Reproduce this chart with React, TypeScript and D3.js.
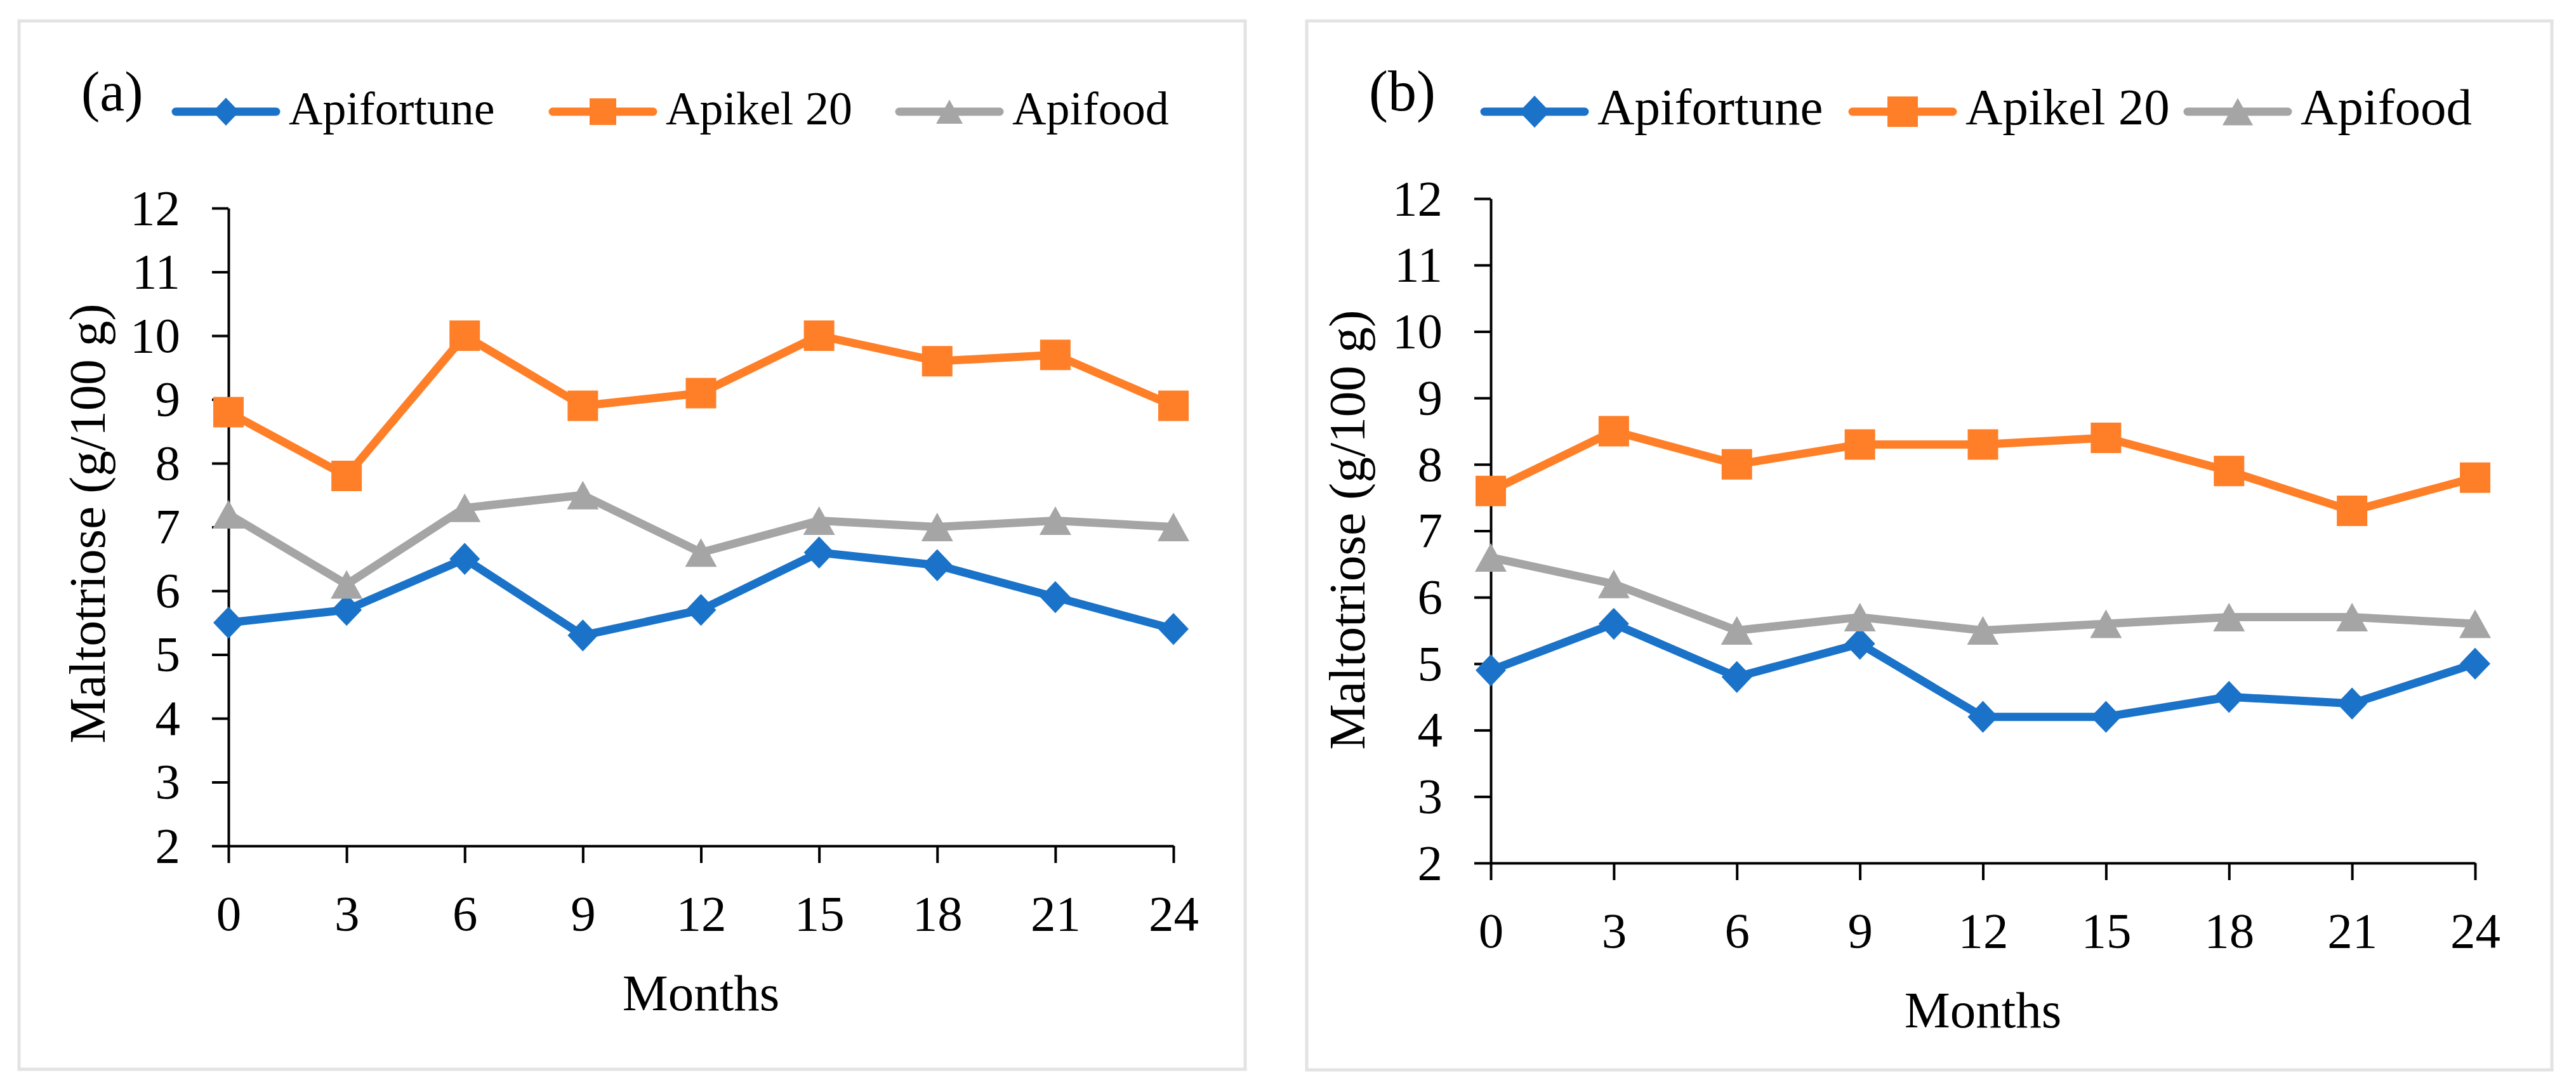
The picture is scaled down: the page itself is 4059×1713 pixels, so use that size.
import { useEffect, useRef } from "react";
import * as d3 from "d3";

// Storage months and maltotriose content (g/100 g)
const MONTHS = [0, 3, 6, 9, 12, 15, 18, 21, 24];
const Y_TICKS = [2, 3, 4, 5, 6, 7, 8, 9, 10, 11, 12];
const SERIES_NAMES = ["Apifortune", "Apikel 20", "Apifood"];

const A_APIFORTUNE = [5.5, 5.7, 6.5, 5.3, 5.7, 6.6, 6.4, 5.9, 5.4];
const A_APIKEL = [8.8, 7.8, 10.0, 8.9, 9.1, 10.0, 9.6, 9.7, 8.9];
const A_APIFOOD = [7.2, 6.1, 7.3, 7.5, 6.6, 7.1, 7.0, 7.1, 7.0];

const B_APIFORTUNE = [4.9, 5.6, 4.8, 5.3, 4.2, 4.2, 4.5, 4.4, 5.0];
const B_APIKEL = [7.6, 8.5, 8.0, 8.3, 8.3, 8.4, 7.9, 7.3, 7.8];
const B_APIFOOD = [6.6, 6.2, 5.5, 5.7, 5.5, 5.6, 5.7, 5.7, 5.6];

const COLORS = ["#1a73c8", "#fe7f28", "#a5a5a5"];
const FONT = "'Liberation Serif', 'Times New Roman', serif";

// custom marker shapes; "size" is used as half the marker width
const diamond = {
  draw(ctx: d3.Path, r: number) {
    ctx.moveTo(0, -r * 1.05);
    ctx.lineTo(r, 0);
    ctx.lineTo(0, r * 1.05);
    ctx.lineTo(-r, 0);
    ctx.closePath();
  },
};
const square = {
  draw(ctx: d3.Path, r: number) {
    ctx.rect(-r, -r, 2 * r, 2 * r);
  },
};
const triangle = {
  draw(ctx: d3.Path, r: number) {
    const h = r * 0.9;
    ctx.moveTo(0, -h);
    ctx.lineTo(r, h);
    ctx.lineTo(-r, h);
    ctx.closePath();
  },
};
const SHAPES = [diamond, square, triangle];
const MARKER_R = [24, 24, 25];

const PANELS = [
  {
    tag: "(a)",
    series: [A_APIFORTUNE, A_APIKEL, A_APIFOOD],
    frame: { x: 30, y: 33, w: 1932, h: 1652 },
    plot: { left: 360, right: 1849, top: 328, bottom: 1333 },
    tagX: 128,
    tagFont: 88,
    legendY: 176,
    legendFont: 74,
    legendMarker: 21,
    legendLines: [271, 865, 1411],
    yTitle: { x: 165, y: 825 },
  },
  {
    tag: "(b)",
    series: [B_APIFORTUNE, B_APIKEL, B_APIFOOD],
    frame: { x: 2059, y: 33, w: 1962, h: 1653 },
    plot: { left: 2349, right: 3900, top: 313, bottom: 1360 },
    tagX: 2157,
    tagFont: 90,
    legendY: 176,
    legendFont: 81,
    legendMarker: 24,
    legendLines: [2333, 2913, 3441],
    yTitle: { x: 2150, y: 835 },
  },
];

export default function App() {
  const svgRef = useRef<SVGSVGElement>(null);

  useEffect(() => {
    if (!svgRef.current) return;
    const svg = d3.select(svgRef.current);
    svg.selectAll("*").remove();

    svg.append("rect").attr("width", 4059).attr("height", 1713).attr("fill", "#fff");

    PANELS.forEach((p) => {
      const g = svg.append("g");

      // panel frame
      g.append("rect")
        .attr("x", p.frame.x)
        .attr("y", p.frame.y)
        .attr("width", p.frame.w)
        .attr("height", p.frame.h)
        .attr("fill", "none")
        .attr("stroke", "#e3e3e3")
        .attr("stroke-width", 5);

      const x = d3.scaleLinear().domain([0, 24]).range([p.plot.left, p.plot.right]);
      const y = d3.scaleLinear().domain([2, 12]).range([p.plot.bottom, p.plot.top]);

      // Y axis
      const yAxis = g
        .append("g")
        .attr("transform", `translate(${p.plot.left},0)`)
        .call(d3.axisLeft(y).tickValues(Y_TICKS).tickSize(26).tickSizeOuter(0).tickPadding(50));

      // X axis
      const xAxis = g
        .append("g")
        .attr("transform", `translate(0,${p.plot.bottom})`)
        .call(d3.axisBottom(x).tickValues(MONTHS).tickSize(27).tickSizeOuter(0).tickPadding(50));

      [yAxis, xAxis].forEach((ax) => {
        ax.attr("font-family", FONT).attr("font-size", 79);
        ax.selectAll("path, line").attr("stroke", "#000").attr("stroke-width", 4);
        ax.selectAll("text").attr("fill", "#000");
      });

      // axis titles
      g.append("text")
        .attr("x", (p.plot.left + p.plot.right) / 2)
        .attr("y", p.plot.bottom + 259)
        .attr("text-anchor", "middle")
        .attr("font-family", FONT)
        .attr("font-size", 81)
        .text("Months");

      g.append("text")
        .attr("transform", `translate(${p.yTitle.x},${p.yTitle.y}) rotate(-90)`)
        .attr("text-anchor", "middle")
        .attr("font-family", FONT)
        .attr("font-size", 81)
        .text("Maltotriose (g/100 g)");

      // series lines and markers
      const line = d3
        .line<number>()
        .x((_, i) => x(MONTHS[i]))
        .y((d) => y(d));

      p.series.forEach((vals, si) => {
        g.append("path")
          .datum(vals)
          .attr("d", line)
          .attr("fill", "none")
          .attr("stroke", COLORS[si])
          .attr("stroke-width", 13)
          .attr("stroke-linejoin", "round");

        const sym = d3.symbol().type(SHAPES[si] as any).size(MARKER_R[si]);
        g.selectAll(`.m${si}`)
          .data(vals)
          .join("path")
          .attr("class", `m${si}`)
          .attr("transform", (d, i) => `translate(${x(MONTHS[i])},${y(d)})`)
          .attr("d", sym as any)
          .attr("fill", COLORS[si]);
      });

      // panel tag
      g.append("text")
        .attr("x", p.tagX)
        .attr("y", p.legendY - 2)
        .attr("font-family", FONT)
        .attr("font-size", p.tagFont)
        .text(p.tag);

      // legend
      SERIES_NAMES.forEach((name, si) => {
        const lx = p.legendLines[si];
        const len = 170;
        g.append("line")
          .attr("x1", lx + 6)
          .attr("x2", lx + len - 6)
          .attr("y1", p.legendY)
          .attr("y2", p.legendY)
          .attr("stroke", COLORS[si])
          .attr("stroke-width", 13)
          .attr("stroke-linecap", "round");
        g.append("path")
          .attr("transform", `translate(${lx + len / 2},${p.legendY})`)
          .attr("d", d3.symbol().type(SHAPES[si] as any).size(p.legendMarker)() as string)
          .attr("fill", COLORS[si]);
        g.append("text")
          .attr("x", lx + len + 14)
          .attr("y", p.legendY + 20)
          .attr("font-family", FONT)
          .attr("font-size", p.legendFont)
          .text(name);
      });
    });
  }, []);

  return (
    <svg
      ref={svgRef}
      width={4059}
      height={1713}
      viewBox="0 0 4059 1713"
      style={{ position: "absolute", left: 0, top: 0, display: "block" }}
    />
  );
}
